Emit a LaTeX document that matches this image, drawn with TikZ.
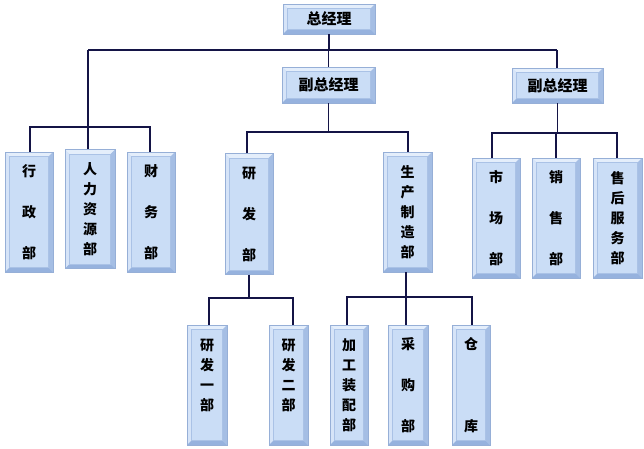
\documentclass[tikz,border=0pt]{standalone}
\usepackage{fontspec}
\newfontfamily\cjk{Noto Sans CJK SC}
\definecolor{face}{RGB}{202,221,246}
\definecolor{bevtop}{RGB}{228,238,251}
\definecolor{bevleft}{RGB}{214,228,248}
\definecolor{bevright}{RGB}{165,190,228}
\definecolor{bevbot}{RGB}{150,178,222}
\definecolor{innerline}{RGB}{170,194,230}
\definecolor{outerline}{RGB}{150,175,215}
\definecolor{conncol}{RGB}{20,20,70}
\tikzset{
  box/.style={inner sep=0pt, draw=outerline, line width=0.4pt, fill=face,
    font=\cjk\bfseries\fontsize{14}{20}\selectfont, align=center,
    path picture={
      \coordinate (@nw) at (path picture bounding box.north west);
      \coordinate (@ne) at (path picture bounding box.north east);
      \coordinate (@sw) at (path picture bounding box.south west);
      \coordinate (@se) at (path picture bounding box.south east);
      \fill[bevtop] (@nw) -- (@ne) -- ([shift={(-4.5pt,-4.5pt)}]@ne) -- ([shift={(4.5pt,-4.5pt)}]@nw) -- cycle;
      \fill[bevleft] (@nw) -- ([shift={(4.5pt,-4.5pt)}]@nw) -- ([shift={(4.5pt,4.5pt)}]@sw) -- (@sw) -- cycle;
      \fill[bevright] (@ne) -- (@se) -- ([shift={(-4.5pt,4.5pt)}]@se) -- ([shift={(-4.5pt,-4.5pt)}]@ne) -- cycle;
      \fill[bevbot] (@sw) -- (@se) -- ([shift={(-4.5pt,4.5pt)}]@se) -- ([shift={(4.5pt,4.5pt)}]@sw) -- cycle;
      \draw[innerline, line width=0.4pt] ([shift={(4.5pt,-4.5pt)}]@nw) rectangle ([shift={(-4.5pt,4.5pt)}]@se);
    }},
  hbox/.style={box, font=\cjk\bfseries\fontsize{15}{20}\selectfont},
  conn/.style={draw=conncol, line width=1.6pt}
}
\begin{document}
\begin{tikzpicture}[x=1pt,y=-1pt]
\fill[white] (0,0) rectangle (644,448);
\useasboundingbox (0,0) rectangle (644,448);

% top levels
\node[hbox, minimum width=92pt, minimum height=30pt] (gm) at (329,19) {总经理};
\node[hbox, minimum width=93pt, minimum height=36pt] (vp1) at (328.5,85) {副总经理};
\node[hbox, minimum width=91pt, minimum height=35pt] (vp2) at (557.5,85.5) {副总经理};

% left group
\node[box, minimum width=48pt, minimum height=120pt] (xz) at (29,212) {行\\[21pt]政\\[21pt]部};
\node[box, minimum width=50pt, minimum height=119pt] (rl) at (90,209) {人\\力\\资\\源\\部};
\node[box, minimum width=48pt, minimum height=120pt] (cw) at (151,212) {财\\[21pt]务\\[21pt]部};

% middle group
\node[box, minimum width=48pt, minimum height=121pt] (yf) at (249,214) {研\\[21pt]发\\[21pt]部};
\node[box, minimum width=49pt, minimum height=120pt] (sc) at (407.5,212) {生\\产\\制\\造\\部};

% right group
\node[box, minimum width=48pt, minimum height=120pt] (sch) at (496,218) {市\\[21pt]场\\[21pt]部};
\node[box, minimum width=48pt, minimum height=120pt] (xs) at (556,218) {销\\[21pt]售\\[21pt]部};
\node[box, minimum width=49pt, minimum height=120pt] (sh) at (617.5,218) {售\\后\\服\\务\\部};

% bottom group
\node[box, minimum width=40pt, minimum height=120pt] (yf1) at (207,385) {研\\发\\一\\部\\\phantom{部}};
\node[box, minimum width=39pt, minimum height=120pt] (yf2) at (288.5,385) {研\\发\\二\\部\\\phantom{部}};
\node[box, minimum width=38pt, minimum height=120pt] (jg) at (349,385) {加\\工\\装\\配\\部};
\node[box, minimum width=40pt, minimum height=120pt] (cg) at (408,385) {采\\[21pt]购\\[21pt]部};
\node[box, minimum width=38pt, minimum height=120pt] (ck) at (471,385) {仓\\[62pt]库};

% connectors
\coordinate (t1) at (88,50);
\coordinate (t2) at (557,50);
\draw[conn] (gm.south) -- (gm.south |- t1);
\draw[conn] (t1) -- (t2);
\draw[conn] (t1) -- (rl.north -| t1);
\draw[conn] (vp1.north |- t1) -- (vp1.north);
\draw[conn] (t2) -- (vp2.north -| t2);

\coordinate (l1) at (30,127);
\coordinate (l2) at (150,127);
\draw[conn] (xz.north -| l1) |- (l2) -- (cw.north -| l2);

\coordinate (m1) at (247,132);
\coordinate (m2) at (408,132);
\draw[conn] (vp1.south) -- (vp1.south |- m1);
\draw[conn] (yf.north -| m1) |- (m2) -- (sc.north -| m2);

\coordinate (r1) at (492,133);
\coordinate (r3) at (617,133);
\draw[conn] (vp2.south) -- (vp2.south |- r1);
\draw[conn] (sch.north -| r1) |- (r3) -- (sh.north -| r3);
\draw[conn] (xs.north) -- (xs.north |- r1);

\coordinate (b1) at (209,298);
\coordinate (b2) at (293,298);
\draw[conn] (yf.south) -- (yf.south |- b1);
\draw[conn] (yf1.north -| b1) |- (b2) -- (yf2.north -| b2);

\coordinate (c1) at (347,297);
\coordinate (c3) at (472,297);
\coordinate (c2) at (406,297);
\draw[conn] (sc.south -| c2) -- (c2);
\draw[conn] (jg.north -| c1) |- (c3) -- (ck.north -| c3);
\draw[conn] (cg.north -| c2) -- (c2);
\end{tikzpicture}
\end{document}
